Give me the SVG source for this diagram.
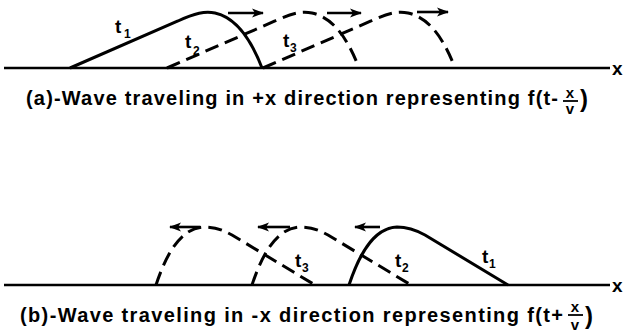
<svg xmlns="http://www.w3.org/2000/svg" width="626" height="334" viewBox="0 0 626 334">
<defs>
<style>
.ax{stroke:#000;stroke-width:2.6;fill:none}
.w{stroke:#000;stroke-width:3;fill:none;stroke-linecap:butt}
.d{stroke-dasharray:14 7}
.ar{stroke:#000;stroke-width:2.6;fill:none}
.cap{font-family:"Liberation Sans",Arial,sans-serif;font-size:20px;font-weight:bold;fill:#000}
.lb{font-family:"Liberation Sans",Arial,sans-serif;font-size:19px;font-weight:bold;fill:#000}
.sb{font-family:"Liberation Sans",Arial,sans-serif;font-size:12px;fill:#000;font-weight:bold}
.fr{font-family:"Liberation Sans",Arial,sans-serif;font-size:15px;fill:#000;text-anchor:middle;font-weight:bold}
</style>
<marker id="ah" viewBox="0 0 12 10" refX="11" refY="5" markerWidth="12" markerHeight="10" markerUnits="userSpaceOnUse" orient="auto">
<path d="M0,0.5 L12,5 L0,9.5 L3,5 Z" fill="#000"/>
</marker>
<path id="wa" d="M70,68 L178,21 C195,13 205,11 215,13 C238,18 252,42 262,68"/>
<path id="wb" d="M349,285 C358,258 372,228 397,227 C408,227 416,230 425,235 L508,285"/>
</defs>

<g id="axis-a">
<line class="ax" x1="4" y1="68" x2="610" y2="68"/>
<text x="612" y="75" style="font-family:'Liberation Sans',Arial,sans-serif;font-size:19px;font-weight:bold">x</text>
</g>
<g id="axis-b">
<line class="ax" x1="4" y1="285" x2="610" y2="285"/>
<text x="612" y="292" style="font-family:'Liberation Sans',Arial,sans-serif;font-size:19px;font-weight:bold">x</text>
</g>

<g id="connectors">
<line class="ar" x1="228" y1="13" x2="263" y2="13" marker-end="url(#ah)"/>
<line class="ar" x1="327" y1="13" x2="361" y2="13" marker-end="url(#ah)"/>
<line class="ar" x1="417" y1="12" x2="448" y2="12" marker-end="url(#ah)"/>
<line class="ar" x1="380" y1="227" x2="355" y2="227" marker-end="url(#ah)"/>
<line class="ar" x1="290" y1="227" x2="258" y2="227" marker-end="url(#ah)"/>
<line class="ar" x1="200" y1="227" x2="170" y2="227" marker-end="url(#ah)"/>
</g>

<g id="wave-a-t1">
<use href="#wa" class="w"/>
<text class="lb" x="115" y="33">t</text><text class="sb" x="124" y="38">1</text>
</g>
<g id="wave-a-t2">
<use href="#wa" class="w d" transform="translate(97,0)"/>
<text class="lb" x="185" y="48">t</text><text class="sb" x="193" y="55">2</text>
</g>
<g id="wave-a-t3">
<use href="#wa" class="w d" transform="translate(193,0)"/>
<text class="lb" x="283" y="47">t</text><text class="sb" x="290" y="52">3</text>
</g>

<g id="wave-b-t1">
<use href="#wb" class="w"/>
<text class="lb" x="482" y="263">t</text><text class="sb" x="489" y="268">1</text>
</g>
<g id="wave-b-t2">
<use href="#wb" class="w d" transform="translate(-97,0)"/>
<text class="lb" x="395" y="267">t</text><text class="sb" x="402" y="272">2</text>
</g>
<g id="wave-b-t3">
<use href="#wb" class="w d" transform="translate(-193,0)"/>
<text class="lb" x="295" y="267">t</text><text class="sb" x="302" y="272">3</text>
</g>

<g id="caption-a">
<text class="cap" x="26" y="105" textLength="532" lengthAdjust="spacing">(a)-Wave traveling in +x direction representing f(t-</text>
<text class="fr" x="570" y="98">x</text>
<line x1="563" y1="101" x2="578" y2="101" stroke="#000" stroke-width="1.8"/>
<text class="fr" x="570" y="114">v</text>
<text class="cap" x="580" y="107" style="font-size:24px">)</text>
</g>
<g id="caption-b">
<text class="cap" x="20" y="322" textLength="543" lengthAdjust="spacing">(b)-Wave traveling in -x direction representing f(t+</text>
<text class="fr" x="575" y="312">x</text>
<line x1="568" y1="315" x2="583" y2="315" stroke="#000" stroke-width="1.8"/>
<text class="fr" x="575" y="330">v</text>
<text class="cap" x="585" y="324" style="font-size:24px">)</text>
</g>
</svg>
